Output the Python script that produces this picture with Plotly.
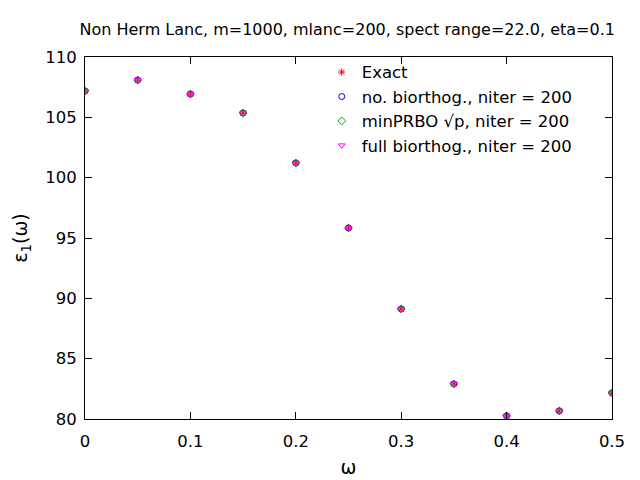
import plotly.graph_objects as go

omega = [0.0, 0.05, 0.1, 0.15, 0.2, 0.25, 0.3, 0.35, 0.4, 0.45, 0.5]
eps_exact = [107.18, 108.09, 106.93, 105.36, 101.22, 95.83, 89.12, 82.91, 80.26, 80.67, 82.16]
eps_nobi = [107.18, 108.09, 106.93, 105.36, 101.22, 95.83, 89.12, 82.91, 80.26, 80.67, 82.16]
eps_minprbo = [107.18, 108.09, 106.93, 105.36, 101.22, 95.83, 89.12, 82.91, 80.26, 80.67, 82.16]
eps_full = [107.18, 108.09, 106.93, 105.36, 101.22, 95.83, 89.12, 82.91, 80.26, 80.67, 82.16]

names = ['Exact', 'no. biorthog., niter = 200', 'minPRBO \u221ap, niter = 200', 'full biorthog., niter = 200']
symbols = ['asterisk-open', 'circle-open', 'diamond-open', 'triangle-down-open']
colors = ['red', 'blue', '#00a000', 'magenta']
series = [eps_exact, eps_nobi, eps_minprbo, eps_full]

font = 'DejaVu Sans'

fig = go.Figure()
for name, ys, sym, col in zip(names, series, symbols, colors):
    fig.add_trace(go.Scatter(x=omega, y=ys, mode='markers', name=name,
                             marker=dict(symbol=sym, size=6, color=col,
                                         line=dict(color=col, width=1))))

axis_style = dict(showline=True, linecolor='black', linewidth=1, mirror='ticks',
                  ticks='inside', ticklen=7, tickcolor='black', showgrid=False,
                  zeroline=False, tickfont=dict(family=font, size=16.5, color='black'))

# the page puts the figure 8px in from the top-left corner
fig.update_layout(
    width=640, height=480,
    margin=dict(l=77, r=36, t=49, b=69),
    paper_bgcolor='white', plot_bgcolor='white',
    font=dict(family=font, size=16, color='black'),
    title=dict(text='Non Herm Lanc, m=1000, mlanc=200, spect range=22.0, eta=0.1',
               x=0.53, xanchor='center', y=0.956, yanchor='middle',
               font=dict(family=font, size=16)),
    xaxis=dict(range=[0, 0.5], dtick=0.1, tickformat='.1~f', ticklabelstandoff=7,
               title=dict(text='\u03c9', standoff=10), **axis_style),
    yaxis=dict(range=[80, 110], dtick=5, ticklabelstandoff=4,
               title=dict(text='\u03b5<sub>1</sub>(\u03c9)', standoff=12), **axis_style),
    legend=dict(x=0.935, xanchor='right', y=1.006, yanchor='top',
                bgcolor='rgba(0,0,0,0)', font=dict(family=font, size=16.5),
                itemwidth=30, tracegroupgap=0),
    showlegend=True,
)

fig.write_html('out.html')
